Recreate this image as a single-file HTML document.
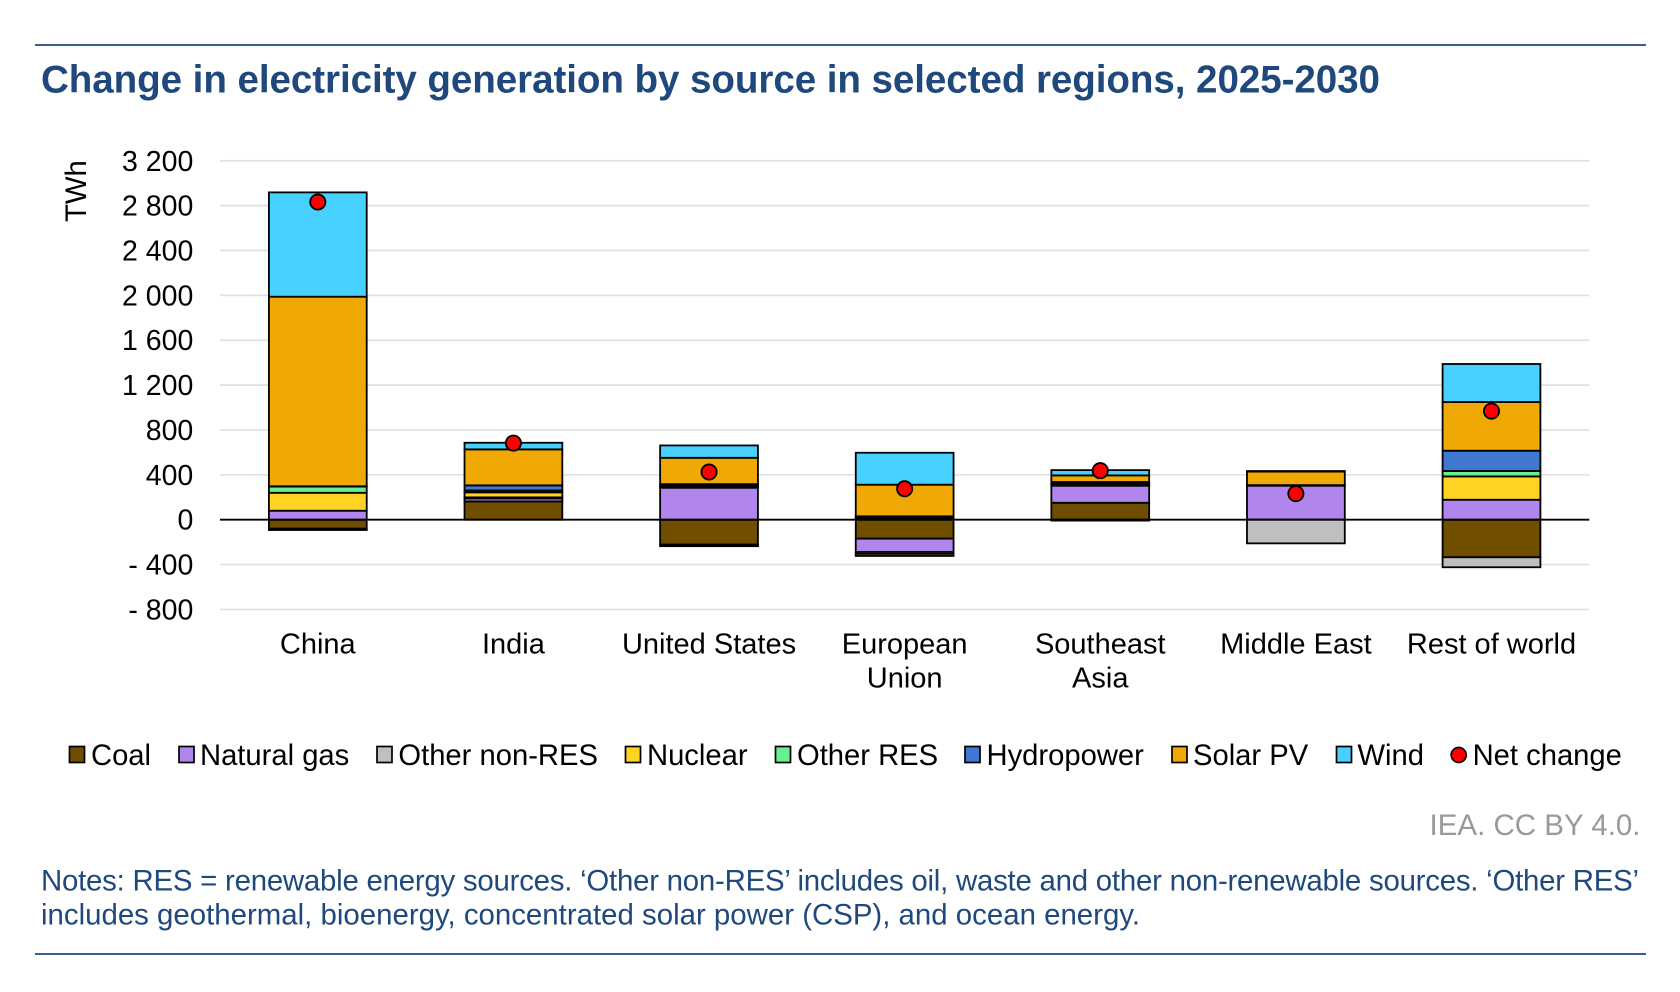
<!DOCTYPE html>
<html lang="en">
<head>
<meta charset="utf-8">
<title>Change in electricity generation by source in selected regions, 2025-2030</title>
<style>
  html, body { margin: 0; padding: 0; background: #ffffff; }
  body { width: 1680px; height: 992px; overflow: hidden; }
  svg { display: block; font-family: "Liberation Sans", Arial, sans-serif; }
  .tick { font-size: 28.5px; fill: #000000; }
  .cat { font-size: 29px; fill: #000000; }
  .leg { font-size: 29.2px; fill: #000000; }
  .axis-title { font-size: 29.3px; fill: #000000; }
  .note { font-size: 29.4px; fill: #1f497d; }
</style>
</head>
<body>
<svg id="chart" xmlns="http://www.w3.org/2000/svg" width="1680" height="992" viewBox="0 0 1680 992">
  <rect x="0" y="0" width="1680" height="992" fill="#ffffff"/>
  <line x1="35" x2="1646" y1="45" y2="45" stroke="#3a5f8f" stroke-width="2"/>
  <text x="41" y="92.7" font-size="38.6" font-weight="700" fill="#1f497d" textLength="1339">Change in electricity generation by source in selected regions, 2025-2030</text>

  <g id="grid"></g>
  <g id="yticks"></g>
  <text class="axis-title" transform="translate(86 222) rotate(-90)" x="0" y="0">TWh</text>
  <g id="bars"></g>
  <g id="axis"></g>
  <g id="points"></g>
  <g id="xlabels"></g>

  <g>
    <g>
      <rect x="69.5" y="746.5" width="15" height="16" fill="#6f4e00" stroke="#000" stroke-width="1.7"/>
      <text class="leg" x="91" y="765">Coal</text>
    </g>
    <g>
      <rect x="179" y="746.5" width="15" height="16" fill="#b085ec" stroke="#000" stroke-width="1.7"/>
      <text class="leg" x="200" y="765">Natural gas</text>
    </g>
    <g>
      <rect x="377" y="746.5" width="15" height="16" fill="#bfbfbf" stroke="#000" stroke-width="1.7"/>
      <text class="leg" x="398.4" y="765">Other non-RES</text>
    </g>
    <g>
      <rect x="625.5" y="746.5" width="15" height="16" fill="#ffd324" stroke="#000" stroke-width="1.7"/>
      <text class="leg" x="647" y="765">Nuclear</text>
    </g>
    <g>
      <rect x="775.5" y="746.5" width="15" height="16" fill="#66f08f" stroke="#000" stroke-width="1.7"/>
      <text class="leg" x="797" y="765">Other RES</text>
    </g>
    <g>
      <rect x="965" y="746.5" width="15" height="16" fill="#3e78d0" stroke="#000" stroke-width="1.7"/>
      <text class="leg" x="986.5" y="765">Hydropower</text>
    </g>
    <g>
      <rect x="1172" y="746.5" width="15" height="16" fill="#f0a804" stroke="#000" stroke-width="1.7"/>
      <text class="leg" x="1193" y="765">Solar PV</text>
    </g>
    <g>
      <rect x="1336.5" y="746.5" width="15" height="16" fill="#48d0ff" stroke="#000" stroke-width="1.7"/>
      <text class="leg" x="1357.5" y="765">Wind</text>
    </g>
    <g>
      <circle cx="1458.7" cy="755" r="7.5" fill="#ff0000" stroke="#000" stroke-width="1.7"/>
      <text class="leg" x="1472.6" y="765">Net change</text>
    </g>
  </g>

  <text x="1640.5" y="835" text-anchor="end" font-size="29.5" fill="#999999">IEA. CC BY 4.0.</text>
  <text class="note" x="41" y="890.7" textLength="1598">Notes: RES = renewable energy sources. ‘Other non-RES’ includes oil, waste and other non-renewable sources. ‘Other RES’</text>
  <text class="note" x="41" y="924.7" textLength="1099">includes geothermal, bioenergy, concentrated solar power (CSP), and ocean energy.</text>
  <line x1="35" x2="1646" y1="954" y2="954" stroke="#3a5f8f" stroke-width="2"/>
</svg>

<script>
const categories = [["China"], ["India"], ["United States"], ["European", "Union"], ["Southeast", "Asia"], ["Middle East"], ["Rest of world"]];
const tickValues = [3200, 2800, 2400, 2000, 1600, 1200, 800, 400, 0, -400, -800];
const tickLabels = ["3 200", "2 800", "2 400", "2 000", "1 600", "1 200", "800", "400", "0", "- 400", "- 800"];

const coal = [-80, 163, -222, -169, 151, 0, -335];
const naturalGas = [80, 27, 285, -119, 152, 303, 178];
const otherNonRes = [-12, 9, -14, -17, -8, -211, -89];
const nuclear = [160, 45, 10, -18, 8, 2, 208];
const otherRes = [55, 17, 14, 16, 15, 2, 48];
const hydropower = [3, 45, 8, 14, 10, 1, 181];
const solarPv = [1690, 321, 235, 282, 59, 121, 434];
const wind = [930, 59, 110, 285, 47, 5, 339];
const netChange = [2832, 683, 425, 276, 437, 232, 968];

const seriesNames = ["coal", "natural-gas", "other-non-res", "nuclear", "other-res", "hydropower", "solar-pv", "wind"];
const seriesValues = [coal, naturalGas, otherNonRes, nuclear, otherRes, hydropower, solarPv, wind];
const seriesColors = ["#6f4e00", "#b085ec", "#bfbfbf", "#ffd324", "#66f08f", "#3e78d0", "#f0a804", "#48d0ff"];

const NS = "http://www.w3.org/2000/svg";
const plotLeft = 220, plotRight = 1589.3;
const yZero = 519.7, pxPerUnit = 0.11217;
function yScale(v) { return yZero - v * pxPerUnit; }
function bandWidth() { return (plotRight - plotLeft) / categories.length; }
function xCenter(i) { return plotLeft + bandWidth() * (i + 0.5); }

function make(tag, attrs, parent) {
  const el = document.createElementNS(NS, tag);
  for (const k in attrs) el.setAttribute(k, attrs[k]);
  parent.appendChild(el);
  return el;
}

const gridG = document.getElementById("grid");
const tickG = document.getElementById("yticks");
tickValues.forEach(function (v, i) {
  if (v !== 0) {
    const gl = make("line", { x1: plotLeft, x2: plotRight, y1: yScale(v), y2: yScale(v), stroke: "#e0e0e0", "stroke-width": 1.7 }, gridG);
    
    
  }
  const t = make("text", { class: "tick", x: 193.3, y: yScale(v) + 10, "text-anchor": "end" }, tickG);
  
  
  t.textContent = tickLabels[i];
});

const barsG = document.getElementById("bars");
categories.forEach(function (cat, i) {
  let up = 0, down = 0;
  const w = bandWidth() / 2;
  seriesValues.forEach(function (values, s) {
    const v = values[i];
    if (!v) return;
    let top, bottom;
    if (v > 0) { bottom = up; up += v; top = up; }
    else { top = down; down += v; bottom = down; }
    const r = make("rect", {
      x: xCenter(i) - w / 2, y: yScale(top), width: w, height: yScale(bottom) - yScale(top),
      fill: seriesColors[s], stroke: "#000000", "stroke-width": 1.8
    }, barsG);
    
    
  });
});

const axisLine = make("line", { x1: plotLeft, x2: plotRight, y1: yScale(0), y2: yScale(0), stroke: "#000000", "stroke-width": 1.8 }, document.getElementById("axis"));



const pointsG = document.getElementById("points");
netChange.forEach(function (v, i) {
  const c = make("circle", { cx: xCenter(i), cy: yScale(v), r: 7.6, fill: "#ff0000", stroke: "#000000", "stroke-width": 1.8 }, pointsG);
  
  
});

const xG = document.getElementById("xlabels");
categories.forEach(function (lines, i) {
  lines.forEach(function (line, j) {
    const t = make("text", { class: "cat", x: xCenter(i), y: 653.7 + j * 34, "text-anchor": "middle" }, xG);
    
    
    t.textContent = line;
  });
});
</script>
</body>
</html>
